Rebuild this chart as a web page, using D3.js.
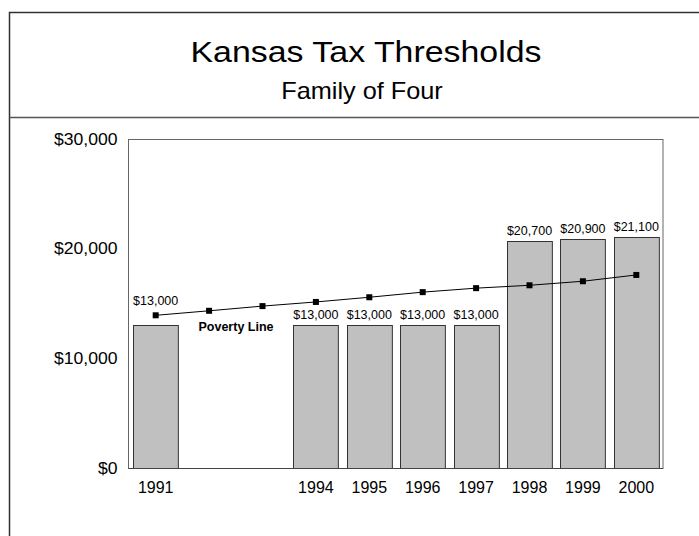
<!DOCTYPE html>
<html>
<head>
<meta charset="utf-8">
<script src="https://cdn.jsdelivr.net/npm/d3@7/dist/d3.min.js"></script>
<style>
  html, body { margin: 0; padding: 0; background: #fff; }
  svg { display: block; font-family: "Liberation Sans", Arial, sans-serif; }
</style>
</head>
<body>
<svg id="chart" width="699" height="536"></svg>
<script>
// ---- data ----
const years = ["1991","1992","1993","1994","1995","1996","1997","1998","1999","2000"];
const thresholds = [13000, null, null, 13000, 13000, 13000, 13000, 20700, 20900, 21100];
const povertyLine = [13924, 14335, 14763, 15141, 15569, 16036, 16400, 16660, 17029, 17603];
const yTicks = [0, 10000, 20000, 30000];
const xTickLabels = ["1991","1994","1995","1996","1997","1998","1999","2000"];
const title = "Kansas Tax Thresholds";
const subtitle = "Family of Four";
const lineLabel = "Poverty Line";

// ---- layout ----
const svg = d3.select("#chart");
const plot = { left: 129, right: 663, top: 139, bottom: 468 };
const FONT = '"Liberation Sans", Arial, sans-serif';

// frame
svg.append("path")
  .attr("d", "M9.5,536 V12.5 H699")
  .attr("fill", "none").attr("stroke", "#333").attr("stroke-width", 1.5);
svg.append("line")
  .attr("x1", 9.5).attr("x2", 699).attr("y1", 117.5).attr("y2", 117.5)
  .attr("stroke", "#555").attr("stroke-width", 1.5);

svg.append("text").attr("transform", "translate(366,62) scale(1.13,1)")
  .attr("text-anchor", "middle")
  .attr("font-size", 30).attr("fill", "#000").text(title);
svg.append("text").attr("transform", "translate(362,99) scale(1.1,1)")
  .attr("text-anchor", "middle")
  .attr("font-size", 23).attr("fill", "#000").text(subtitle);

const x = d3.scaleBand().domain(years).range([plot.left, plot.right])
  .paddingInner(0.16).paddingOuter(0.08);
const y = d3.scaleLinear().domain([0, 30000]).range([plot.bottom, plot.top]);

// plot border
svg.append("rect")
  .attr("x", plot.left - 0.5).attr("y", plot.top + 0.5)
  .attr("width", plot.right - plot.left + 0.5).attr("height", plot.bottom - plot.top)
  .attr("fill", "none").attr("stroke", "#666").attr("stroke-width", 1);

// bars
const barData = years.map((yr, i) => ({ yr, v: thresholds[i] })).filter(d => d.v != null);
svg.append("g").selectAll("rect").data(barData).join("rect")
  .attr("x", d => Math.round(x(d.yr)) + 0.5)
  .attr("y", d => Math.round(y(d.v)) + 0.5)
  .attr("width", x.bandwidth())
  .attr("height", d => y(0) - Math.round(y(d.v)))
  .attr("fill", "#c0c0c0").attr("stroke", "#333").attr("stroke-width", 1);

// baseline
svg.append("line").attr("x1", plot.left - 0.5).attr("x2", plot.right)
  .attr("y1", y(0) + 0.5).attr("y2", y(0) + 0.5).attr("stroke", "#444");

// y axis labels
const yAxis = d3.axisLeft(y).tickValues(yTicks).tickSize(0).tickPadding(10)
  .tickFormat(d => "$" + d3.format(",")(d));
const gy = svg.append("g").attr("transform", `translate(${plot.left - 1},0)`).call(yAxis);
gy.select(".domain").remove();
gy.selectAll("text").attr("font-size", 16).attr("fill", "#000")
  .attr("font-family", FONT).attr("x", -9.5).attr("transform", "scale(1.1,1)");

// x axis labels
const xAxis = d3.axisBottom(x).tickValues(xTickLabels).tickSize(0).tickPadding(14);
const gx = svg.append("g").attr("transform", `translate(0,${plot.bottom})`).call(xAxis);
gx.select(".domain").remove();
gx.selectAll("text").attr("font-size", 16).attr("fill", "#000")
  .attr("font-family", FONT);

// poverty line
const cx = yr => x(yr) + x.bandwidth() / 2;
const lineData = years.map((yr, i) => ({ yr, v: povertyLine[i] }));
svg.append("path").datum(lineData)
  .attr("d", d3.line().x(d => cx(d.yr)).y(d => y(d.v)))
  .attr("fill", "none").attr("stroke", "#000").attr("stroke-width", 1);
svg.append("g").selectAll("rect").data(lineData).join("rect")
  .attr("x", d => cx(d.yr) - 3).attr("y", d => y(d.v) - 3)
  .attr("width", 6).attr("height", 6).attr("fill", "#000");

// bar value labels
const raisedLabel = "1991";
svg.append("g").selectAll("text").data(barData).join("text")
  .attr("x", d => cx(d.yr))
  .attr("y", d => d.yr === raisedLabel ? y(d.v) - 20 : y(d.v) - 6)
  .attr("text-anchor", "middle").attr("font-size", 12.5).attr("fill", "#000")
  .text(d => "$" + d3.format(",")(d.v));

// line label
svg.append("text").attr("x", 236).attr("y", 331).attr("text-anchor", "middle")
  .attr("font-size", 12.5).attr("font-weight", "bold").attr("fill", "#000")
  .text(lineLabel);
</script>
</body>
</html>
